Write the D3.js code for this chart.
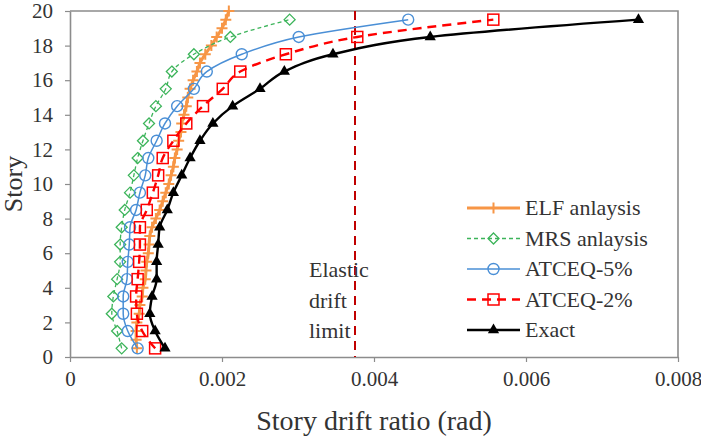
<!DOCTYPE html>
<html>
<head>
<meta charset="utf-8">
<title>story drift</title>
<script src="https://cdnjs.cloudflare.com/ajax/libs/d3/7.8.5/d3.min.js"></script>
<style>
  body { margin: 0; background: #fff; }
</style>
</head>
<body>
<div id="container"></div>
<script>
// story levels (mid-height of each storey)
var stories = [0.5,1.5,2.5,3.5,4.5,5.5,6.5,7.5,8.5,9.5,10.5,11.5,12.5,13.5,14.5,15.5,16.5,17.5,18.5,19.5];
// ELF was plotted with a denser set of points
var elfStories = [0.5,1,1.5,2,2.5,3,3.5,4,4.5,5,5.5,6,6.5,7,7.5,8,8.5,9,9.5,10,
  10.5,11,11.5,12,12.5,13,13.5,14,14.5,15,15.5,16,16.5,17,17.5,18,18.5,19,19.5,20];
var elf = [0.00088,0.00087,0.00087,0.00088,0.00091,0.00092,0.00095,0.00096,0.00099,0.00100,
  0.00101,0.00103,0.00104,0.00105,0.00108,0.00113,0.00118,0.00122,0.00126,0.00130,
  0.00133,0.00136,0.00138,0.00141,0.00143,0.00146,0.00147,0.00150,0.00153,0.00155,
  0.00158,0.00162,0.00167,0.00171,0.00178,0.00186,0.00193,0.00200,0.00205,0.00209];
var mrs = [0.00068,0.00062,0.00055,0.00057,0.00062,0.00066,0.00066,0.00068,0.00072,0.00079,
  0.00084,0.00089,0.00096,0.00104,0.00113,0.00126,0.00134,0.00163,0.00211,0.00289];
var atc5 = [0.00089,0.00076,0.00070,0.00070,0.00075,0.00076,0.00078,0.00079,0.00087,0.00092,
  0.00099,0.00103,0.00114,0.00125,0.00141,0.00163,0.00180,0.00226,0.00301,0.00445];
var atc2 = [0.00112,0.00095,0.00088,0.00087,0.00089,0.00091,0.00092,0.00092,0.00101,0.00109,
  0.00116,0.00122,0.00136,0.00153,0.00175,0.00201,0.00224,0.00284,0.00378,0.00557];
var exact = [0.00125,0.00112,0.00105,0.00108,0.00114,0.00114,0.00116,0.00118,0.00128,0.00136,
  0.00147,0.00158,0.00171,0.00188,0.00214,0.00250,0.00282,0.00346,0.00474,0.00748];
var driftLimit = 0.00375;
var xTicks = [0, 0.002, 0.004, 0.006, 0.008];
var yTicks = [0,2,4,6,8,10,12,14,16,18,20];
var legendNames = ["ELF anlaysis","MRS anlaysis","ATCEQ-5%","ATCEQ-2%","Exact"];
var noteLines = ["Elastic","drift","limit"];

var W = 701, H = 438;
var margin = {top: 11, right: 23, bottom: 81, left: 70};
var width = W - margin.left - margin.right,
    height = H - margin.top - margin.bottom;
var serif = "'Liberation Serif'";
var textCol = "#333";

var svg = d3.select("#container").append("svg")
    .attr("width", W).attr("height", H);
var g = svg.append("g").attr("transform","translate("+margin.left+","+margin.top+")");

var xScale = d3.scaleLinear().domain([0,0.008]).range([0,width]);
var yScale = d3.scaleLinear().domain([0,20]).range([height,0]);

var axisCol = "#8c8c8c";

function serifText(sel, size){
  return sel.attr("font-family","Liberation Serif").style("font-family",serif)
    .style("font-size",size+"px").attr("fill",textCol);
}

// frame (top and right)
g.append("path")
  .attr("d","M0,0H"+width+"V"+height)
  .attr("fill","none").attr("stroke",axisCol).attr("stroke-width",1.6);

var xAxis = d3.axisBottom(xScale).tickValues(xTicks).tickSize(5).tickSizeOuter(0)
  .tickFormat(function(d){ return d===0 ? "0" : d3.format(".3f")(d); });
var yAxis = d3.axisLeft(yScale).tickValues(yTicks).tickSize(5).tickSizeOuter(0);

var gx = g.append("g").attr("transform","translate(0,"+height+")").call(xAxis);
var gy = g.append("g").call(yAxis);
[gx,gy].forEach(function(a){
  a.attr("font-family","Liberation Serif");
  a.selectAll(".domain").attr("stroke",axisCol).attr("stroke-width",1.6);
  a.selectAll(".tick line").attr("stroke",axisCol).attr("stroke-width",1.2);
  serifText(a.selectAll(".tick text"), 21);
});
gx.selectAll(".tick text").attr("y",14);
gy.selectAll(".tick text").attr("x",-17);

// elastic drift limit
g.append("line")
  .attr("x1",xScale(driftLimit)).attr("x2",xScale(driftLimit))
  .attr("y1",0).attr("y2",height)
  .attr("stroke","#c00000").attr("stroke-width",2).attr("stroke-dasharray","9,6");

var series = [
  {name:legendNames[0], x:elf,  y:elfStories, color:"#f79646", width:3,   dash:null,  marker:"cross"},
  {name:legendNames[1], x:mrs,  y:stories,    color:"#3cb45a", width:1.3, dash:"4,3", marker:"diamond"},
  {name:legendNames[2], x:atc5, y:stories,    color:"#4a8fd6", width:1.5, dash:null,  marker:"circle"},
  {name:legendNames[3], x:atc2, y:stories,    color:"#ff0000", width:2.4, dash:"9,6", marker:"square"},
  {name:legendNames[4], x:exact,y:stories,    color:"#000000", width:2.4, dash:null,  marker:"triangle"}
];

function drawMarker(sel, s){
  if(s.marker=="cross"){
    sel.append("path").attr("d","M-5.5,0H5.5M0,-5.5V5.5")
      .attr("stroke",s.color).attr("stroke-width",2).attr("fill","none");
  } else if(s.marker=="diamond"){
    sel.append("path").attr("d","M0,-5.5L5.5,0L0,5.5L-5.5,0Z")
      .attr("stroke",s.color).attr("stroke-width",1.3).attr("fill","none");
  } else if(s.marker=="circle"){
    sel.append("circle").attr("r",5.5)
      .attr("stroke",s.color).attr("stroke-width",1.4).attr("fill","none");
  } else if(s.marker=="square"){
    sel.append("rect").attr("x",-5.5).attr("y",-5.5).attr("width",11).attr("height",11)
      .attr("stroke",s.color).attr("stroke-width",1.5).attr("fill","none");
  } else {
    sel.append("path").attr("d",d3.symbol().type(d3.symbolTriangle).size(55)())
      .attr("fill",s.color);
  }
}

series.forEach(function(s){
  var pts = s.x.map(function(v,i){ return [v, s.y[i]]; });
  var line = d3.line().curve(d3.curveMonotoneY)
    .x(function(d){ return xScale(d[0]); })
    .y(function(d){ return yScale(d[1]); });
  g.append("path").datum(pts).attr("d",line)
    .attr("fill","none").attr("stroke",s.color).attr("stroke-width",s.width)
    .attr("stroke-dasharray",s.dash);
  g.append("g").selectAll("g").data(pts).enter().append("g")
    .attr("transform",function(d){ return "translate("+xScale(d[0])+","+yScale(d[1])+")"; })
    .each(function(){ drawMarker(d3.select(this), s); });
});

// legend
var lg = svg.append("g").attr("transform","translate(467,208)");
series.forEach(function(s,i){
  var row = lg.append("g").attr("transform","translate(0,"+(i*30.5)+")");
  row.append("line").attr("x1",0).attr("x2",53).attr("y1",0).attr("y2",0)
    .attr("stroke",s.color).attr("stroke-width",s.width).attr("stroke-dasharray",s.dash);
  drawMarker(row.append("g").attr("transform","translate(26.5,0)"), s);
  serifText(row.append("text"), 22).attr("x",58).attr("y",0).attr("dy","0.33em").text(s.name);
});

// note
serifText(svg.append("g").selectAll("text").data(noteLines).enter().append("text"), 22)
  .attr("x",309).attr("y",function(d,i){ return 270 + i*30.5; }).attr("dy","0.33em")
  .text(function(d){ return d; });

// axis titles
serifText(svg.append("text"), 28).attr("x",margin.left+width/2).attr("y",430)
  .attr("text-anchor","middle").text("Story drift ratio (rad)");
serifText(svg.append("text"), 26)
  .attr("transform","translate(22,"+(margin.top+height/2)+") rotate(-90)")
  .attr("text-anchor","middle").text("Story");
</script>
</body>
</html>
